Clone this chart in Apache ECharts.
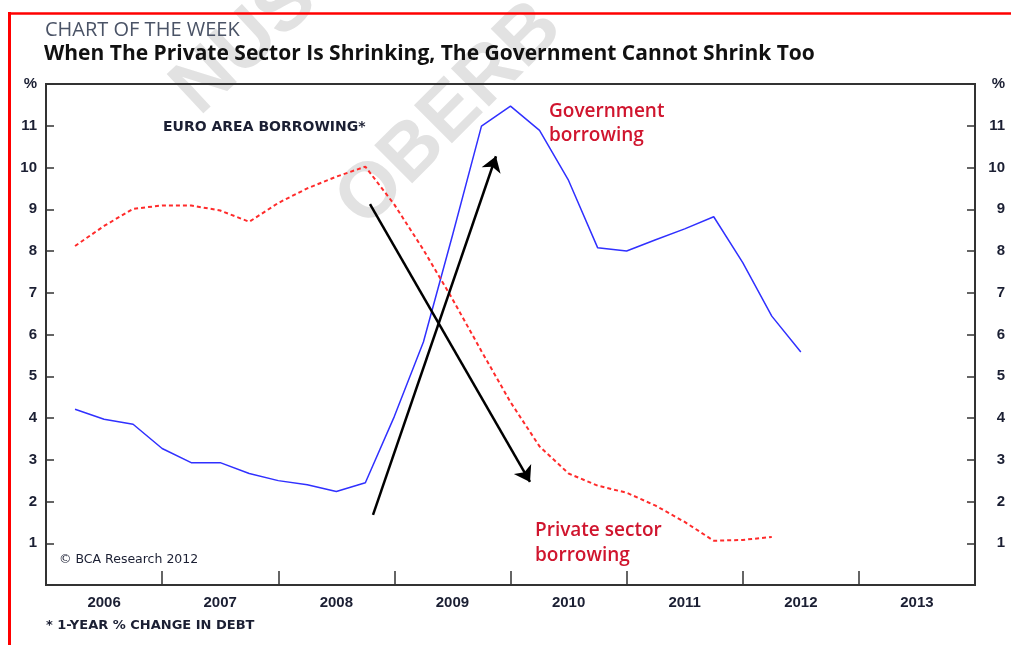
<!DOCTYPE html>
<html>
<head>
<meta charset="utf-8">
<script src="https://cdn.jsdelivr.net/npm/echarts@6/dist/echarts.min.js"></script>
<style>
  html, body { margin: 0; padding: 0; background: #fff; }
  #chart { width: 1011px; height: 645px; }
</style>
</head>
<body>
<div id="chart"></div>
<script>
// ---- Data ----
const years = ['2006', '2007', '2008', '2009', '2010', '2011', '2012', '2013'];
const yLabels = ['', '1', '2', '3', '4', '5', '6', '7', '8', '9', '10', '11', '%'];
// quarterly observation dates (decimal years)
const quarters = [2006.25, 2006.5, 2006.75, 2007.0, 2007.25, 2007.5, 2007.75, 2008.0,
                  2008.25, 2008.5, 2008.75, 2009.0, 2009.25, 2009.5, 2009.75, 2010.0,
                  2010.25, 2010.5, 2010.75, 2011.0, 2011.25, 2011.5, 2011.75, 2012.0,
                  2012.25, 2012.5];
const governmentBorrowing = [4.21, 3.97, 3.85, 3.27, 2.93, 2.93, 2.67, 2.50,
                             2.40, 2.24, 2.45, 4.04, 5.82, 8.37, 10.99, 11.47,
                             10.89, 9.69, 8.08, 8.00, 8.27, 8.53, 8.82, 7.72,
                             6.44, 5.58];
const privateBorrowing = [8.12, 8.60, 9.01, 9.09, 9.09, 8.97, 8.70, 9.15,
                          9.50, 9.78, 10.02, 9.11, 8.03, 6.85, 5.60, 4.38,
                          3.32, 2.67, 2.38, 2.21, 1.90, 1.51, 1.06, 1.08,
                          1.15];
// annotation arrows: [fromYear, fromValue, toYear, toValue]
const arrows = [
  [2008.816, 1.68, 2009.875, 10.27],
  [2008.79, 9.12, 2010.168, 2.47]
];

const govData = quarters.slice(0, governmentBorrowing.length).map((q, i) => [q, governmentBorrowing[i]]);
const privData = quarters.slice(0, privateBorrowing.length).map((q, i) => [q, privateBorrowing[i]]);

const chart = echarts.init(document.getElementById('chart'), null, { renderer: 'canvas' });

const axisLabelStyle = {
  fontFamily: 'Liberation Sans, Arial, sans-serif',
  fontWeight: 'bold',
  fontSize: 15,
  color: '#1b1f33'
};

const option = {
  animation: false,
  backgroundColor: '#ffffff',
  grid: {
    left: 46, right: 36, top: 84, bottom: 60,
    show: true, borderColor: '#333333', borderWidth: 2,
    backgroundColor: 'transparent'
  },
  xAxis: [
    {
      type: 'category',
      data: years,
      boundaryGap: true,
      position: 'bottom',
      axisLine: { show: false },
      axisTick: { show: true, inside: true, length: 14, lineStyle: { color: '#333', width: 1.5 } },
      axisLabel: Object.assign({ margin: 10 }, axisLabelStyle),
      splitLine: { show: false }
    },
    {
      type: 'value',
      min: 2006, max: 2014,
      show: false
    }
  ],
  yAxis: [
    {
      type: 'value', min: 0, max: 12, interval: 1, position: 'left',
      axisLine: { show: false },
      axisTick: { show: true, inside: true, length: 8, lineStyle: { color: '#333', width: 1.5 } },
      splitLine: { show: false },
      axisLabel: Object.assign({ margin: 9, formatter: v => yLabels[v] }, axisLabelStyle)
    },
    {
      type: 'value', min: 0, max: 12, interval: 1, position: 'right',
      axisLine: { show: false },
      axisTick: { show: true, inside: true, length: 8, lineStyle: { color: '#333', width: 1.5 } },
      splitLine: { show: false },
      axisLabel: Object.assign({ margin: 30, align: 'right', formatter: v => yLabels[v] }, axisLabelStyle)
    }
  ],
  series: [
    {
      name: 'Government borrowing',
      type: 'line',
      xAxisIndex: 1, yAxisIndex: 0,
      data: govData,
      symbol: 'none',
      lineStyle: { color: '#3030ff', width: 1.5 },
      z: 3,
      markLine: {
        silent: true,
        symbol: ['none', 'arrow'],
        symbolSize: 15,
        label: { show: false },
        lineStyle: { color: '#000000', width: 2.5, type: 'solid' },
        data: arrows.map(a => [{ coord: [a[0], a[1]] }, { coord: [a[2], a[3]] }])
      }
    },
    {
      name: 'Private sector borrowing',
      type: 'line',
      xAxisIndex: 1, yAxisIndex: 0,
      data: privData,
      symbol: 'none',
      lineStyle: { color: '#ff2b2b', width: 2, type: [4, 3] },
      z: 3
    }
  ],
  graphic: [
    // watermark
    { type: 'text', x: 245, y: 45, rotation: 0.75, z: -10, silent: true,
      style: { text: 'NUS', fill: '#e2e2e2', font: 'bold 78px "Liberation Sans", Arial, sans-serif', textAlign: 'center', textVerticalAlign: 'middle' } },
    { type: 'text', x: 450, y: 115, rotation: 0.785, z: -10, silent: true,
      style: { text: 'OBERB', fill: '#e2e2e2', font: 'bold 78px "Liberation Sans", Arial, sans-serif', textAlign: 'center', textVerticalAlign: 'middle' } },
    // red frame
    { type: 'line', z: 5, silent: true, shape: { x1: 8, y1: 13.5, x2: 1011, y2: 13.5 }, style: { stroke: '#ff0000', lineWidth: 2.5 } },
    { type: 'line', z: 5, silent: true, shape: { x1: 9.5, y1: 12, x2: 9.5, y2: 645 }, style: { stroke: '#ff0000', lineWidth: 3 } },
    // titles
    { type: 'text', left: 45, top: 20, z: 5,
      style: { text: 'CHART OF THE WEEK', fill: '#4a5366', font: '20px "Open Sans", sans-serif' } },
    { type: 'text', left: 44, top: 44, z: 5,
      style: { text: 'When The Private Sector Is Shrinking, The Government Cannot Shrink Too', fill: '#111111', font: 'bold 21px "Open Sans", sans-serif' } },
    // annotations
    { type: 'text', left: 163, top: 120, z: 5,
      style: { text: 'EURO AREA BORROWING*', fill: '#1b1f33', font: 'bold 14px "DejaVu Sans", sans-serif' } },
    { type: 'text', left: 549, top: 100, z: 5,
      style: { text: 'Government\nborrowing', fill: '#d0152e', font: '600 19px "Open Sans", sans-serif', lineHeight: 24 } },
    { type: 'text', left: 535, top: 518, z: 5,
      style: { text: 'Private sector\nborrowing', fill: '#d0152e', font: '600 19px "Open Sans", sans-serif', lineHeight: 25 } },
    { type: 'text', left: 59, top: 553, z: 5,
      style: { text: '\u00a9 BCA Research 2012', fill: '#1b1f33', font: '12.5px "DejaVu Sans", sans-serif' } },
    { type: 'text', left: 46, top: 619, z: 5,
      style: { text: '* 1-YEAR % CHANGE IN DEBT', fill: '#1b1f33', font: 'bold 13px "DejaVu Sans", sans-serif' } }
  ]
};

chart.setOption(option);
</script>
</body>
</html>
